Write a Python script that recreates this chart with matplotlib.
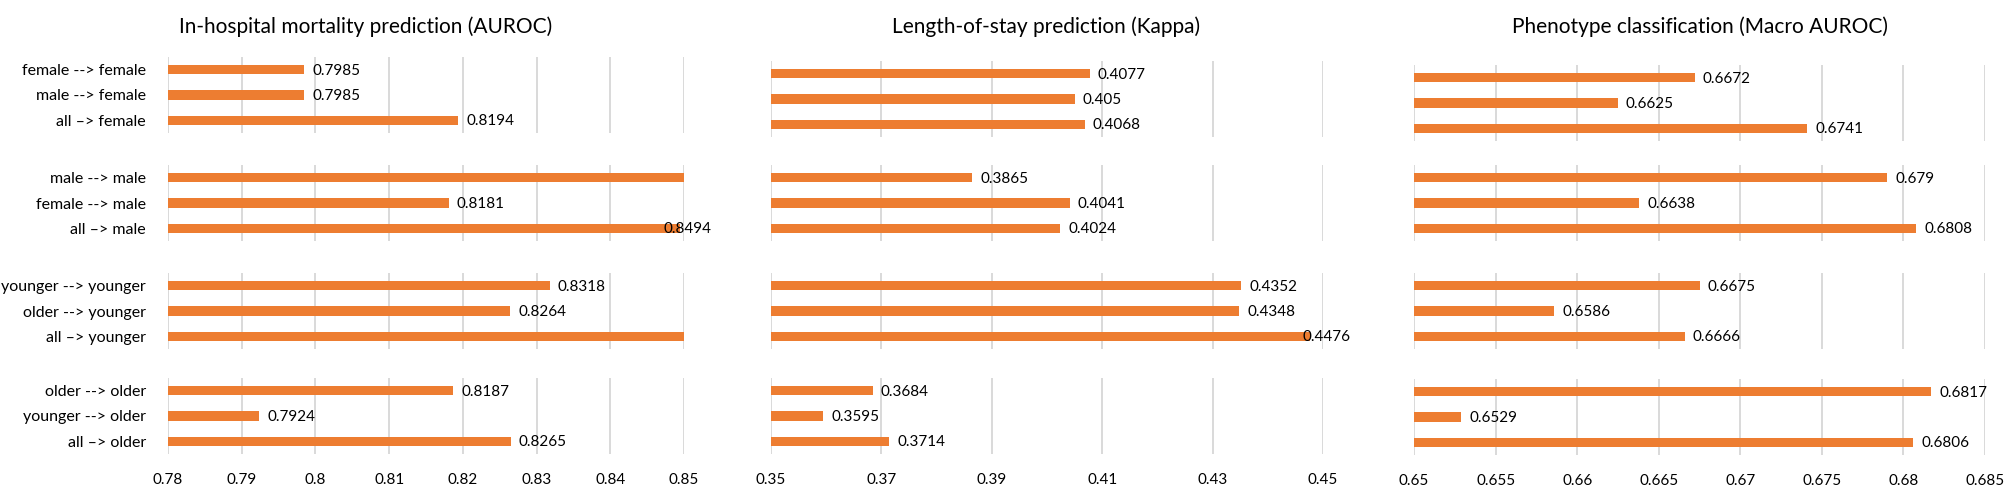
import matplotlib.pyplot as plt
import numpy as np

plt.rcParams['font.family'] = ['Lato', 'DejaVu Sans']

# group labels (top to bottom inside each group)
group_labels = [
    ["female --> female", "male --> female", "all \u2013> female"],
    ["male --> male", "female --> male", "all \u2013> male"],
    ["younger --> younger", "older --> younger", "all \u2013> younger"],
    ["older --> older", "younger --> older", "all \u2013> older"],
]

panel_titles = [
    "In-hospital mortality prediction (AUROC)",
    "Length-of-stay prediction (Kappa)",
    "Phenotype classification (Macro AUROC)",
]

# values per group; bars beyond the axis limit are cut off in the source (no label shown)
mortality = [
    [0.7985, 0.7985, 0.8194],
    [0.8560, 0.8181, 0.8494],
    [0.8318, 0.8264, 0.8560],
    [0.8187, 0.7924, 0.8265],
]
length_of_stay = [
    [0.4077, 0.405, 0.4068],
    [0.3865, 0.4041, 0.4024],
    [0.4352, 0.4348, 0.4476],
    [0.3684, 0.3595, 0.3714],
]
phenotype = [
    [0.6672, 0.6625, 0.6741],
    [0.679, 0.6638, 0.6808],
    [0.6675, 0.6586, 0.6666],
    [0.6817, 0.6529, 0.6806],
]

mortality_ticks = [0.78, 0.79, 0.80, 0.81, 0.82, 0.83, 0.84, 0.85]
los_ticks = [0.35, 0.37, 0.39, 0.41, 0.43, 0.45]
phenotype_ticks = [0.65, 0.655, 0.66, 0.665, 0.67, 0.675, 0.68, 0.685]

panels = [
    (mortality, mortality_ticks),
    (length_of_stay, los_ticks),
    (phenotype, phenotype_ticks),
]

ORANGE = "#ED7D31"
GRID = "#D9D9D9"
W, H = 2008, 504

# layout in pixels
panel_x = [(168, 684), (771, 1323), (1414, 1985)]
group_tops = [[57, 165, 273, 378], [61, 165, 273, 378], [65, 165, 273, 379]]
group_h = 76
title_x = [366, 1046, 1700]

fig = plt.figure(figsize=(W / 100, H / 100), dpi=100)

for p, (data, ticks) in enumerate(panels):
    x0, x1 = panel_x[p]
    xmin, xmax = ticks[0], ticks[-1]
    for g in range(4):
        top = group_tops[p][g]
        ax = fig.add_axes([x0 / W, 1 - (top + group_h) / H, (x1 - x0) / W, group_h / H])
        vals = data[g]
        ypos = np.array([2, 1, 0])
        ax.barh(ypos, vals, height=0.37, color=ORANGE, zorder=3)
        ax.set_xlim(xmin, xmax)
        ax.set_ylim(-0.5, 2.5)
        ax.set_xticks(ticks)
        ax.xaxis.grid(True, color=GRID, linewidth=1.4, zorder=0)
        ax.set_axisbelow(True)
        for s in ax.spines.values():
            s.set_visible(False)
        ax.tick_params(axis="both", length=0, labelsize=11, colors="black")
        if g == 3:
            ax.set_xticklabels(["{:g}".format(t) for t in ticks])
            ax.tick_params(axis="x", pad=14)
        else:
            ax.set_xticklabels([])
        if p == 0:
            ax.set_yticks(ypos)
            ax.set_yticklabels(group_labels[g], fontsize=11.5)
            ax.tick_params(axis="y", pad=16)
        else:
            ax.set_yticks([])

        for y, v in zip(ypos, vals):
            if v > xmax:
                continue
            if (xmax - v) / (xmax - xmin) < 0.04:
                ax.annotate("{:g}".format(v), (xmax, y), xytext=(28, -1),
                            textcoords="offset pixels", ha="right", va="center",
                            fontsize=11, annotation_clip=False)
            else:
                ax.annotate("{:g}".format(v), (v, y), xytext=(8, -1),
                            textcoords="offset pixels", ha="left", va="center",
                            fontsize=11, annotation_clip=False)

    fig.text(title_x[p] / W, 1 - 27 / H, panel_titles[p], ha="center", va="center",
             fontsize=15)

fig.savefig("out.png", dpi=100, facecolor="white")
